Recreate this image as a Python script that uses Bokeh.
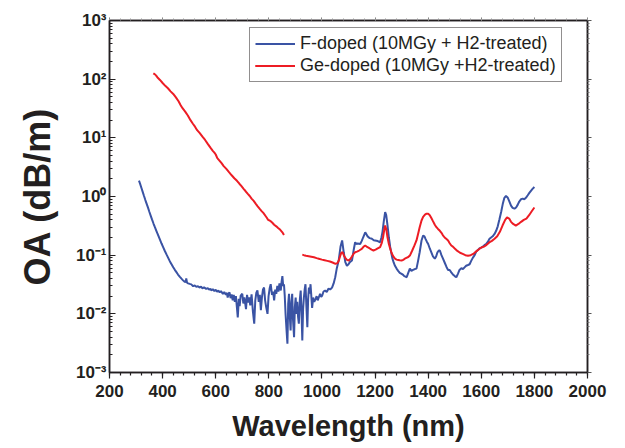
from bokeh.plotting import figure
from bokeh.models import (Range1d, LinearAxis, LogAxis, SingleIntervalTicker, FixedTicker,
                          CustomJSTickFormatter, Legend, LegendItem, Title)
from bokeh.embed import file_html
from bokeh.resources import INLINE

# ---------------- data ----------------
f_wl = [311, 315, 320, 325, 330, 335, 340, 345, 350, 355, 360, 366, 371, 376, 380, 385, 390, 396,
        402, 408, 415, 421, 427, 433, 440, 446, 452, 458, 465, 471, 477, 483, 487, 489, 492, 496,
        502, 508, 515, 521, 527, 533, 539, 545, 550, 556, 564, 570, 575, 580, 583, 589, 595, 600,
        605, 610, 615, 620, 627, 632, 638, 642, 645, 649, 652, 656, 660, 664, 668, 672, 676, 680,
        683, 687, 690, 694, 700, 704, 708, 714, 718, 722, 726, 730, 735, 740, 745, 749, 753, 757,
        762, 766, 770, 774, 778, 782, 786, 790, 795, 799, 803, 807, 812, 816, 820, 824, 828, 832,
        836, 840, 845, 848, 851, 854, 857, 860, 863, 867, 870, 873, 876, 879, 882, 885, 888, 891,
        895, 898, 901, 904, 907, 910, 913, 917, 920, 923, 926, 929, 932, 935, 938, 941, 945, 948,
        951, 954, 957, 960, 963, 967, 971, 976, 980, 984, 988, 993, 997, 1001, 1006, 1012, 1018,
        1025, 1031, 1038, 1044, 1050, 1056, 1063, 1070, 1076, 1082, 1088, 1094, 1100, 1105, 1113,
        1120, 1125, 1130, 1135, 1144, 1150, 1155, 1163, 1168, 1172, 1180, 1188, 1195, 1200, 1210,
        1219, 1224, 1228, 1233, 1238, 1242, 1247, 1252, 1257, 1261, 1265, 1270, 1275, 1281, 1287,
        1293, 1300, 1306, 1310, 1315, 1319, 1325, 1331, 1337, 1343, 1350, 1356, 1362, 1368, 1375,
        1381, 1386, 1390, 1395, 1400, 1406, 1412, 1418, 1425, 1430, 1435, 1440, 1444, 1450, 1455,
        1462, 1469, 1475, 1481, 1487, 1493, 1500, 1506, 1512, 1518, 1525, 1531, 1537, 1543, 1550,
        1556, 1562, 1568, 1575, 1581, 1587, 1593, 1600, 1606, 1612, 1618, 1625, 1631, 1637, 1643,
        1650, 1656, 1662, 1668, 1675, 1681, 1687, 1693, 1700, 1706, 1712, 1718, 1725, 1731, 1737,
        1743, 1750, 1756, 1762, 1768, 1775, 1781, 1787, 1793, 1800]
f_oa = [1.87, 1.66, 1.41, 1.20, 1.02, 0.87, 0.75, 0.645, 0.55, 0.473, 0.407, 0.343, 0.30, 0.263,
        0.237, 0.209, 0.184, 0.158, 0.137, 0.119, 0.102, 0.090, 0.079, 0.071, 0.0624, 0.0562,
        0.0513, 0.0468, 0.0427, 0.0398, 0.0372, 0.0351, 0.0347, 0.040, 0.0339, 0.0331, 0.0324,
        0.0318, 0.0296, 0.0305, 0.0288, 0.0295, 0.0281, 0.0290, 0.0272, 0.0282, 0.0266, 0.0275,
        0.0258, 0.0268, 0.0252, 0.0262, 0.0245, 0.0256, 0.0238, 0.0250, 0.0232, 0.0244, 0.0218,
        0.0236, 0.0212, 0.0228, 0.0190, 0.0225, 0.0232, 0.0185, 0.0215, 0.0170, 0.0210, 0.0160,
        0.0200, 0.0125, 0.0087, 0.0180, 0.0135, 0.0205, 0.0220, 0.0150, 0.0190, 0.0120, 0.0210,
        0.0155, 0.0190, 0.0140, 0.0215, 0.0110, 0.0068, 0.0170, 0.0230, 0.0250, 0.0160, 0.0210,
        0.0115, 0.0190, 0.0260, 0.0280, 0.0170, 0.0130, 0.0100, 0.0200, 0.0270, 0.0320, 0.0210,
        0.0240, 0.0170, 0.0260, 0.0220, 0.0300, 0.0240, 0.0330, 0.0250, 0.0350, 0.0440, 0.0300,
        0.0320, 0.0200, 0.0100, 0.0050, 0.0031, 0.0150, 0.0220, 0.0090, 0.0052, 0.0160, 0.0220,
        0.0080, 0.0040, 0.0130, 0.0190, 0.0100, 0.0160, 0.0090, 0.0068, 0.0180, 0.0250, 0.0110,
        0.0035, 0.0120, 0.0190, 0.0260, 0.0320, 0.0150, 0.0059, 0.0180, 0.0280, 0.0220, 0.0320,
        0.0200, 0.0126, 0.0190, 0.0160, 0.0178, 0.0200, 0.0170, 0.0190, 0.0220, 0.0195, 0.0205,
        0.0240, 0.0250, 0.0235, 0.0270, 0.0260, 0.0280, 0.0330, 0.0420, 0.0600, 0.0810, 0.1400,
        0.1780, 0.1120, 0.0760, 0.0660, 0.0700, 0.0760, 0.0810, 0.1260, 0.1660, 0.1550, 0.1580,
        0.1550, 0.1750, 0.2000, 0.2450, 0.2250, 0.2090, 0.1950, 0.1900, 0.1800, 0.1780, 0.1740,
        0.1660, 0.2000, 0.2500, 0.3800, 0.5400, 0.4800, 0.3200, 0.2000, 0.1380, 0.1100, 0.0890,
        0.0750, 0.0660, 0.0590, 0.0540, 0.0500, 0.0480, 0.0460, 0.0440, 0.0430, 0.0420, 0.0500,
        0.0590, 0.0540, 0.0560, 0.0580, 0.0590, 0.0800, 0.1120, 0.1780, 0.2160, 0.2100, 0.1900,
        0.1700, 0.1550, 0.1300, 0.1120, 0.0950, 0.0870, 0.0950, 0.1120, 0.1200, 0.1200, 0.1000,
        0.0890, 0.0750, 0.0630, 0.0560, 0.0560, 0.0510, 0.0470, 0.0440, 0.0420, 0.0480, 0.0560,
        0.0600, 0.0580, 0.0620, 0.0660, 0.0680, 0.0700, 0.0800, 0.0900, 0.1000, 0.1150, 0.1220,
        0.1300, 0.1350, 0.1400, 0.1480, 0.1550, 0.1700, 0.1900, 0.2000, 0.2100, 0.2300, 0.2600,
        0.3100, 0.4000, 0.5500, 0.7500, 0.9500, 1.0200, 0.9500, 0.8200, 0.7000, 0.6400, 0.6200,
        0.6500, 0.7200, 0.8200, 0.9000, 0.9200, 0.9000, 0.9500, 1.0500, 1.1500, 1.2500, 1.3500,
        1.4500]

ge_wl_a = [365, 370, 375, 380, 390, 400, 410, 420, 430, 440, 450, 460, 468, 475, 485, 495, 505,
           514, 522, 530, 540, 550, 560, 570, 580, 589, 595, 600, 606, 614, 622, 630, 640, 650,
           660, 670, 680, 689, 697, 705, 712, 720, 728, 735, 743, 751, 758, 765, 772, 780, 787,
           793, 797, 803, 810, 815, 820, 828, 835, 843, 851, 857]
ge_oa_a = [126, 122, 116, 108, 97, 86, 77, 70, 62, 56, 49, 42, 36, 32, 28, 24, 20, 17.4, 15.5,
           13.5, 12, 10.5, 9.2, 7.9, 6.8, 6.0, 5.6, 5.2, 4.5, 4.1, 3.7, 3.3, 2.95, 2.6, 2.3, 2.05,
           1.85, 1.65, 1.5, 1.35, 1.24, 1.12, 1.02, 0.92, 0.84, 0.75, 0.68, 0.62, 0.57, 0.52, 0.47,
           0.43, 0.40, 0.39, 0.37, 0.35, 0.33, 0.31, 0.29, 0.27, 0.245, 0.22]

ge_wl_b = [926, 932, 940, 950, 960, 970, 980, 988, 1000, 1010, 1020, 1030, 1040, 1051, 1058,
           1063, 1068, 1073, 1078, 1083, 1088, 1094, 1101, 1107, 1113, 1119, 1125, 1132, 1140,
           1150, 1157, 1163, 1170, 1180, 1187, 1194, 1202, 1210, 1219, 1225, 1230, 1234, 1238,
           1242, 1247, 1252, 1257, 1262, 1268, 1275, 1281, 1287, 1293, 1300, 1306, 1312, 1318,
           1325, 1332, 1340, 1348, 1356, 1362, 1368, 1375, 1381, 1388, 1394, 1400, 1406, 1412,
           1418, 1425, 1431, 1437, 1444, 1450, 1455, 1462, 1469, 1475, 1481, 1487, 1493, 1500,
           1510, 1520, 1530, 1540, 1550, 1560, 1570, 1580, 1590, 1600, 1610, 1620, 1630, 1640,
           1650, 1660, 1670, 1680, 1690, 1697, 1705, 1712, 1720, 1730, 1740, 1750, 1760, 1770,
           1780, 1790, 1800]
ge_oa_b = [0.102, 0.100, 0.098, 0.096, 0.094, 0.092, 0.089, 0.087, 0.084, 0.082, 0.080, 0.078,
           0.075, 0.071, 0.073, 0.080, 0.095, 0.110, 0.112, 0.098, 0.090, 0.083, 0.081, 0.086,
           0.095, 0.105, 0.112, 0.115, 0.120, 0.128, 0.140, 0.146, 0.138, 0.130, 0.124, 0.120,
           0.124, 0.130, 0.137, 0.160, 0.200, 0.260, 0.320, 0.280, 0.200, 0.155, 0.129, 0.110,
           0.096, 0.087, 0.084, 0.083, 0.082, 0.081, 0.083, 0.087, 0.090, 0.093, 0.100, 0.120,
           0.145, 0.178, 0.230, 0.300, 0.390, 0.450, 0.490, 0.510, 0.510, 0.480, 0.430, 0.380,
           0.330, 0.300, 0.280, 0.260, 0.240, 0.220, 0.200, 0.188, 0.178, 0.160, 0.146, 0.140,
           0.130, 0.118, 0.110, 0.105, 0.100, 0.098, 0.100, 0.105, 0.115, 0.125, 0.135, 0.140,
           0.150, 0.165, 0.175, 0.190, 0.210, 0.250, 0.320, 0.400, 0.440, 0.420, 0.370, 0.340,
           0.320, 0.340, 0.370, 0.400, 0.420, 0.480, 0.560, 0.650]

labels = ["F-doped (10MGy + H2-treated)", "Ge-doped (10MGy +H2-treated)"]
x_title = "Wavelength (nm)"
y_title = "OA (dB/m)"
y_major = [1e-3, 1e-2, 1e-1, 1e0, 1e1, 1e2, 1e3]

# ---------------- style ----------------
FONT = "Liberation Sans"
INK = "#231f20"
BLUE = "#3a53a4"
RED = "#ed1c24"

y_minor = [m * d for d in y_major[:-1] for m in range(2, 10)]

p = figure(width=620, height=446, x_range=Range1d(200, 2000), y_range=Range1d(1e-3, 1e3),
           y_axis_type="log", output_backend="svg", toolbar_location=None,
           min_border_left=106, min_border_top=20, min_border_right=33, min_border_bottom=74)
p.grid.visible = False
p.outline_line_color = INK
p.outline_line_width = 1.5
p.background_fill_color = "white"
p.border_fill_color = "white"

rb = p.line(f_wl, f_oa, line_color=BLUE, line_width=2)
rr1 = p.line(ge_wl_a, ge_oa_a, line_color=RED, line_width=2)
rr2 = p.line(ge_wl_b, ge_oa_b, line_color=RED, line_width=2)

xt = SingleIntervalTicker(interval=200, num_minor_ticks=5)
yt = FixedTicker(ticks=y_major, minor_ticks=y_minor)

sup_fmt = CustomJSTickFormatter(code="""
const s = {'-':'\u207b','0':'\u2070','1':'\u00b9','2':'\u00b2','3':'\u00b3','4':'\u2074',
           '5':'\u2075','6':'\u2076','7':'\u2077','8':'\u2078','9':'\u2079'};
const e = Math.round(Math.log10(tick));
return '10' + String(e).split('').map(c => s[c]).join('');
""")
blank = CustomJSTickFormatter(code="return '';")

xa = p.xaxis[0]
xa.ticker = xt
xa.axis_label = x_title
xa.axis_label_text_font = FONT
xa.axis_label_text_font_size = "29px"
xa.axis_label_text_font_style = "bold"
xa.axis_label_text_color = INK
xa.axis_label_standoff = 10
xa.major_label_text_font = FONT
xa.major_label_text_font_size = "17px"
xa.major_label_text_font_style = "bold"
xa.major_label_text_color = INK
xa.major_label_standoff = 6
xa.major_tick_in = 0
xa.major_tick_out = 6
xa.minor_tick_in = 0
xa.minor_tick_out = 3
xa.axis_line_color = INK
xa.axis_line_width = 1.5
xa.major_tick_line_color = INK
xa.minor_tick_line_color = INK
xa.major_tick_line_width = 1.2
xa.minor_tick_line_width = 1.2

ya = p.yaxis[0]
ya.ticker = yt
ya.formatter = sup_fmt
ya.major_label_text_font = FONT
ya.major_label_text_font_size = "17px"
ya.major_label_text_font_style = "bold"
ya.major_label_text_color = INK
ya.major_label_standoff = 3
ya.major_tick_in = 6
ya.major_tick_out = 0
ya.minor_tick_in = 3
ya.minor_tick_out = 0
ya.axis_line_color = INK
ya.axis_line_width = 1.5
ya.major_tick_line_color = INK
ya.minor_tick_line_color = INK

top = LinearAxis(ticker=xt, formatter=blank, major_label_text_font_size="0px",
                 major_label_standoff=0, major_tick_in=0, major_tick_out=3,
                 minor_tick_in=0, minor_tick_out=2, axis_line_color=INK, axis_line_width=1.5,
                 major_tick_line_color="#777777", minor_tick_line_color="#999999")
p.add_layout(top, "above")
right = LogAxis(ticker=yt, formatter=blank, major_label_text_font_size="0px",
                major_label_standoff=0, major_tick_in=0, major_tick_out=4,
                minor_tick_in=0, minor_tick_out=2, axis_line_color=INK, axis_line_width=1.5,
                major_tick_line_color="#555555", minor_tick_line_color="#777777")
p.add_layout(right, "right")

p.add_layout(Title(text=y_title, align="center", offset=-28, standoff=29,
                   text_font=FONT, text_font_size="36px", text_font_style="bold",
                   text_color=INK), "left")

legend = Legend(items=[LegendItem(label=labels[0], renderers=[rb]),
                       LegendItem(label=labels[1], renderers=[rr1, rr2])],
                location=(140, 290), padding=5, spacing=1, margin=0,
                glyph_width=40, glyph_height=19, label_height=19, label_standoff=5,
                label_text_font=FONT, label_text_font_size="18px", label_text_color=INK,
                border_line_color=INK, border_line_width=1.2, background_fill_alpha=1)
p.add_layout(legend)

open("out.html", "w").write(file_html(p, INLINE))
